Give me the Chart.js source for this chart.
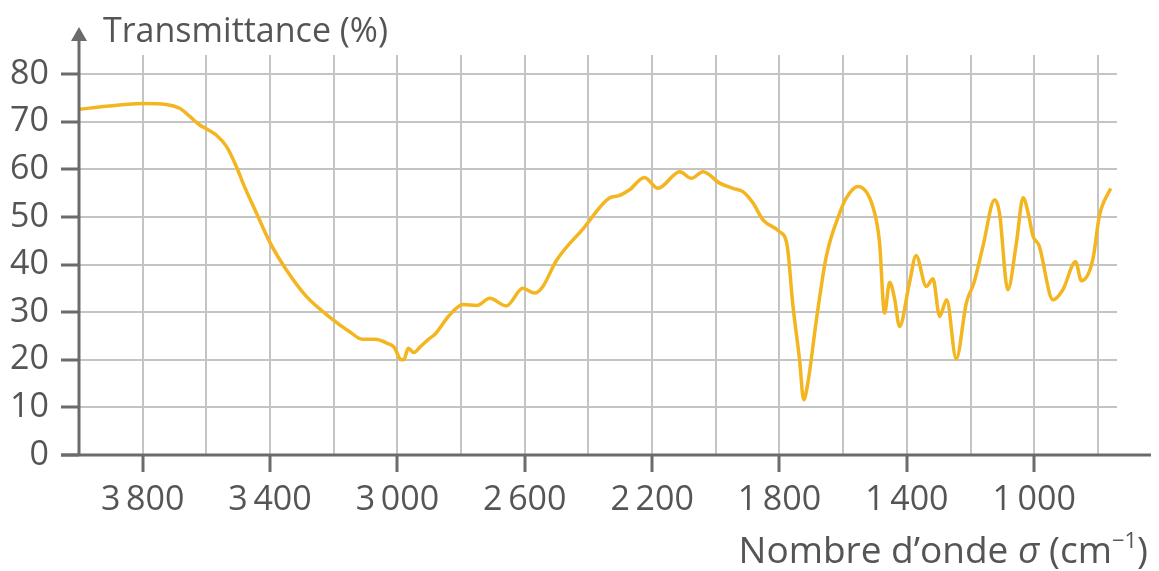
<!DOCTYPE html>
<html>
<head>
<meta charset="utf-8">
<script src="https://cdn.jsdelivr.net/npm/chart.js@4"></script>
<style>
  body { margin: 0; background: #fff; }
  .chart { width: 1159px; height: 571px; }
</style>
</head>
<body>
<div class="chart"><canvas id="spectrum" width="1159" height="571"></canvas></div>
<script>
// wavenumber (cm-1) and transmittance (%)
const wavenumbers = [
  4000, 3904, 3800, 3726, 3684, 3652, 3621, 3600, 3569, 3537, 3506, 3485, 3440, 3400,
  3349, 3286, 3202, 3150, 3110, 3070, 3030, 3010, 2990, 2980, 2966, 2948, 2930, 2899,
  2883, 2836, 2794, 2750, 2710, 2658, 2606, 2569, 2543, 2501, 2417, 2333, 2307, 2271,
  2224, 2182, 2113, 2077, 2040, 1988, 1946, 1915, 1883, 1852, 1800, 1776, 1758, 1737,
  1724, 1711, 1684, 1653, 1611, 1590, 1554, 1507, 1486, 1470, 1454, 1439, 1423, 1392,
  1371, 1339, 1318, 1297, 1275, 1245, 1213, 1190, 1180, 1161, 1124, 1109, 1083, 1056,
  1035, 1018, 1004, 985, 941, 910, 870, 852, 816, 795, 760
];
const transmittance = [
  72.6, 73.3, 73.8, 73.6, 72.8, 71.1, 69.3, 68.5, 67.2, 64.8, 60.6, 57.1, 50.4, 44.6,
  38.9, 33.3, 28.4, 25.9, 24.3, 24.3, 23.4, 22.6, 20.1, 20.0, 22.4, 21.5, 22.6, 24.5,
  25.3, 29.4, 31.6, 31.4, 32.9, 31.3, 35.0, 34.0, 35.4, 40.8, 47.5, 54.0, 54.4, 55.7,
  58.3, 56.0, 59.5, 58.1, 59.5, 57.1, 56.0, 55.3, 52.9, 49.4, 46.9, 44.0, 31.5, 20.0,
  11.6, 15.1, 28.4, 41.7, 50.8, 54.0, 56.4, 52.2, 44.8, 29.8, 36.3, 33.0, 27.0, 36.1,
  41.9, 35.4, 37.0, 29.1, 32.6, 20.2, 32.0, 36.0, 38.5, 43.8, 53.6, 50.8, 34.7, 44.5,
  54.0, 50.5, 46.0, 44.0, 32.6, 34.7, 40.6, 36.6, 41.0, 50.3, 56.0
];

const xGridValues = [3800, 3600, 3400, 3200, 3000, 2800, 2600, 2400, 2200, 2000, 1800, 1600, 1400, 1200, 1000, 800];
const xLabelValues = [3800, 3400, 3000, 2600, 2200, 1800, 1400, 1000];
const yTickValues = [0, 10, 20, 30, 40, 50, 60, 70, 80];

const textColor = '#555';
const axisColor = '#6b6b6b';
const gridColor = '#c4c4c4';
const fontFamily = "'Open Sans', 'Noto Sans', sans-serif";

const formatWavenumber = (v) => {
  const s = String(v);
  return s.length > 3 ? s.slice(0, -3) + '\u2009' + s.slice(-3) : s;
};

// axes with arrow and the two axis titles
const axesPlugin = {
  id: 'axesAndTitles',
  afterDraw(chart) {
    const { ctx, chartArea } = chart;
    const y0 = chart.scales.y.getPixelForValue(0);
    const left = chartArea.left;

    ctx.save();
    ctx.strokeStyle = axisColor;
    ctx.fillStyle = axisColor;
    ctx.lineWidth = 3;
    ctx.beginPath();
    ctx.moveTo(left - 18, y0);
    ctx.lineTo(chartArea.right + 34, y0);
    ctx.moveTo(left, y0);
    ctx.lineTo(left, chartArea.top - 16);
    ctx.stroke();

    ctx.beginPath();
    ctx.moveTo(left, chartArea.top - 28);
    ctx.lineTo(left - 8, chartArea.top - 14);
    ctx.lineTo(left + 8, chartArea.top - 14);
    ctx.closePath();
    ctx.fill();

    ctx.fillStyle = textColor;
    ctx.textBaseline = 'alphabetic';
    ctx.textAlign = 'left';
    ctx.font = '34px ' + fontFamily;
    ctx.fillText('Transmittance (%)', left + 24, chartArea.top - 13);

    // x title, right aligned, with italic sigma and superscript -1
    const parts = [
      { t: 'Nombre d\u2019onde ', f: '37px ' + fontFamily, dy: 0 },
      { t: '\u03c3', f: 'italic 37px ' + fontFamily, dy: 0 },
      { t: ' (cm', f: '37px ' + fontFamily, dy: 0 },
      { t: '\u22121', f: '22px ' + fontFamily, dy: -15 },
      { t: ')', f: '37px ' + fontFamily, dy: 0 }
    ];
    let total = 0;
    parts.forEach(p => { ctx.font = p.f; p.w = ctx.measureText(p.t).width; total += p.w; });
    let x = chartArea.right + 31 - total;
    const baseline = y0 + 108;
    parts.forEach(p => {
      ctx.font = p.f;
      ctx.fillText(p.t, x, baseline + p.dy);
      x += p.w;
    });
    ctx.restore();
  }
};

new Chart(document.getElementById('spectrum'), {
  type: 'line',
  data: {
    datasets: [{
      data: wavenumbers.map((w, i) => ({ x: w, y: transmittance[i] })),
      borderColor: '#f3b520',
      borderWidth: 3.5,
      pointRadius: 0,
      fill: false,
      tension: 0.4,
      cubicInterpolationMode: 'monotone'
    }]
  },
  options: {
    responsive: false,
    animation: false,
    layout: { padding: { left: 0, right: 42, top: 55, bottom: 0 } },
    plugins: { legend: { display: false }, tooltip: { enabled: false } },
    scales: {
      x: {
        type: 'linear',
        reverse: true,
        min: 740,
        max: 4000,
        afterBuildTicks: (scale) => { scale.ticks = xGridValues.map(v => ({ value: v })); },
        afterFit: (scale) => { scale.height = 116; },
        border: { display: false },
        grid: {
          color: gridColor,
          lineWidth: 2,
          tickLength: 17,
          tickWidth: 3,
          tickColor: (c) => (c.tick && xLabelValues.includes(c.tick.value)) ? axisColor : 'rgba(0,0,0,0)'
        },
        ticks: {
          autoSkip: false,
          maxRotation: 0,
          padding: 8,
          color: textColor,
          font: { family: fontFamily, size: 34 },
          callback: (v) => xLabelValues.includes(v) ? formatWavenumber(v) : ''
        }
      },
      y: {
        min: 0,
        max: 84,
        afterBuildTicks: (scale) => { scale.ticks = yTickValues.map(v => ({ value: v })); },
        afterFit: (scale) => { scale.width = 79; },
        border: { display: false },
        grid: {
          color: gridColor,
          lineWidth: 2,
          tickLength: 18,
          tickWidth: 3,
          tickColor: axisColor
        },
        ticks: {
          padding: 12,
          color: textColor,
          font: { family: fontFamily, size: 34 }
        }
      }
    }
  },
  plugins: [axesPlugin]
});
</script>
</body>
</html>
